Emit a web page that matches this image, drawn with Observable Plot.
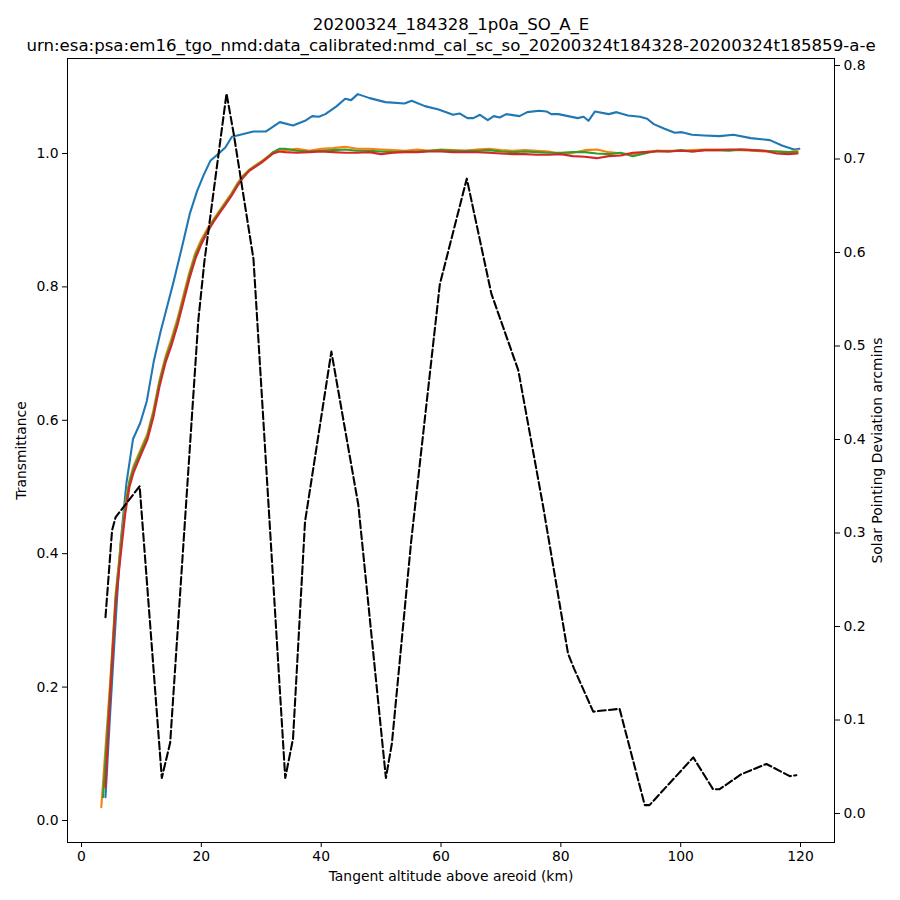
<!DOCTYPE html>
<html>
<head>
<meta charset="utf-8">
<script src="https://cdn.jsdelivr.net/npm/d3@7"></script>
<script src="https://cdn.jsdelivr.net/npm/@observablehq/plot@0.6"></script>
<style>
  html, body { margin: 0; padding: 0; background: white; }
</style>
</head>
<body>
<div id="chart"></div>
<script>
// ---------- DATA ----------
const titleLine1 = "20200324_184328_1p0a_SO_A_E";
const titleLine2 = "urn:esa:psa:em16_tgo_nmd:data_calibrated:nmd_cal_sc_so_20200324t184328-20200324t185859-a-e";
const xLabel = "Tangent altitude above areoid (km)";
const yLabelLeft = "Transmittance";
const yLabelRight = "Solar Pointing Deviation arcmins";

const xTicks = [0, 20, 40, 60, 80, 100, 120];
const yTicksLeft = [0.0, 0.2, 0.4, 0.6, 0.8, 1.0];
const yTicksRight = [0.0, 0.1, 0.2, 0.3, 0.4, 0.5, 0.6, 0.7, 0.8];

// Blue series (own altitude samples)
const blueAlt = [4.0,4.7,5.7,6.5,7.05,7.5,8.6,9.8,10.9,12.05,13.2,14.3,15.4,16.8,18.05,19.3,20.4,21.5,22.9,24.0,
  25.1,26.5,28.7,30.8,33.1,35.3,37.3,38.5,39.6,40.7,42.6,44.0,45.0,46.1,48.1,50.7,53.9,55.1,57.3,59.6,
  62.0,63.1,64.4,65.4,66.5,67.8,68.8,69.8,70.9,73.1,74.4,76.4,77.6,78.4,79.6,82.8,83.8,84.6,85.7,88.0,
  89.3,91.2,93.2,94.4,95.5,97.3,99.0,100.2,101.9,103.9,106.5,108.8,111.7,114.9,116.9,118.9,119.8];
const blueValue = [0.035,0.148,0.30,0.414,0.465,0.506,0.572,0.596,0.629,0.688,0.733,0.771,0.809,0.861,0.909,0.944,0.968,0.989,1.000,1.009,
  1.025,1.028,1.033,1.033,1.047,1.042,1.049,1.056,1.055,1.059,1.071,1.082,1.080,1.089,1.083,1.077,1.075,1.079,1.071,1.066,
  1.058,1.060,1.053,1.053,1.058,1.050,1.056,1.054,1.059,1.056,1.062,1.064,1.063,1.059,1.059,1.053,1.055,1.049,1.063,1.059,
  1.062,1.057,1.055,1.052,1.044,1.037,1.031,1.032,1.028,1.027,1.026,1.028,1.023,1.020,1.012,1.006,1.007];

// Orange / green / red: first sample each, then a shared altitude grid
const startAlt = { orange: 3.3, green: 3.6, red: 4.0 };
const startValue = { orange: 0.02, green: 0.035, red: 0.05 };
const gridAlt = [4.8,5.7,6.5,7.3,8.0,8.7,9.8,11,12,13,14,15,16,17,18,19,20,21,22,23,24,25,26,27,28,29,30,31,32,33,
  34,36,38,40,42,44,46,48,50,52,54,56,58,60,62,64,66,68,70,72,74,76,78,80,82,84,86,88,90,92,94,96,98,100,
  102,104,106,108,110,112,114,116,118,119.5];
const orangeValue = [0.21,0.34,0.41,0.475,0.51,0.532,0.555,0.58,0.615,0.66,0.695,0.722,0.752,0.787,0.822,0.851,0.871,0.887,0.901,0.914,0.927,0.940,0.955,0.967,0.976,0.982,0.988,0.995,1.002,1.006,
  1.005,1.007,1.004,1.007,1.008,1.010,1.007,1.007,1.006,1.005,1.004,1.006,1.004,1.006,1.005,1.004,1.006,1.007,1.005,1.004,1.005,1.004,1.003,0.999,1.001,1.005,1.006,1.002,1.000,0.999,1.002,1.004,1.004,1.004,
  1.005,1.006,1.006,1.005,1.005,1.004,1.003,1.003,1.002,1.005];
const greenValue = [0.20,0.335,0.405,0.47,0.507,0.528,0.551,0.576,0.611,0.656,0.691,0.717,0.747,0.782,0.817,0.847,0.867,0.884,0.899,0.912,0.925,0.938,0.953,0.966,0.975,0.981,0.987,0.994,1.002,1.007,
  1.007,1.004,1.003,1.004,1.005,1.006,1.004,1.004,1.003,1.002,1.003,1.003,1.004,1.005,1.004,1.004,1.004,1.005,1.003,1.002,1.003,1.002,1.001,1.001,1.002,1.002,1.000,0.999,1.001,0.996,1.000,1.004,1.003,1.005,
  1.003,1.005,1.005,1.004,1.006,1.005,1.004,1.003,1.002,1.002];
const redValue = [0.19,0.325,0.395,0.46,0.50,0.522,0.546,0.571,0.605,0.650,0.686,0.712,0.742,0.777,0.812,0.842,0.864,0.882,0.897,0.910,0.923,0.936,0.951,0.964,0.974,0.980,0.986,0.993,1.000,1.003,
  1.002,1.001,1.002,1.003,1.002,1.001,1.001,1.002,0.999,1.001,1.002,1.002,1.003,1.003,1.002,1.002,1.002,1.001,1.000,0.999,0.999,0.998,0.998,0.999,0.996,0.995,0.993,0.996,0.997,1.001,1.002,1.003,1.003,1.004,
  1.003,1.005,1.005,1.006,1.006,1.005,1.004,1.000,0.999,1.000];

// Solar pointing deviation (arcmin), right axis
const devAlt = [4.0,5.1,5.7,6.8,9.7,13.4,14.8,19.5,20.5,24.2,25.4,28.7,34.0,35.3,37.3,41.7,46.2,50.8,51.8,55.0,
  59.8,64.3,68.4,72.9,77.0,81.2,82.2,85.4,89.8,94.0,94.8,102.1,105.4,106.5,110.1,114.3,118.2,119.3];
const devValue = [0.210,0.303,0.317,0.326,0.350,0.038,0.076,0.528,0.590,0.770,0.727,0.593,0.038,0.080,0.312,0.494,0.330,0.038,0.075,0.290,
  0.566,0.679,0.556,0.474,0.330,0.171,0.155,0.109,0.112,0.009,0.009,0.060,0.026,0.026,0.042,0.053,0.040,0.041];

// ---------- SCALES ----------
const xDomain = [-2.34, 125.67];
const yDomain = [-0.033, 1.1424];
const devDomain = [-0.031, 0.8075];
const k = (yDomain[1] - yDomain[0]) / (devDomain[1] - devDomain[0]);
const toT = d => yDomain[0] + (d - devDomain[0]) * k;
const fromT = t => devDomain[0] + (t - yDomain[0]) / k;

const colors = { blue: "#1f77b4", orange: "#ff7f0e", green: "#2ca02c", red: "#d62728" };

const blueRows = blueAlt.map((a, i) => ({ alt: a, value: blueValue[i] }));
const ogr = (name, vals) => [{ alt: startAlt[name], value: startValue[name] }]
  .concat(gridAlt.map((a, i) => ({ alt: a, value: vals[i] })));
const orangeRows = ogr("orange", orangeValue);
const greenRows = ogr("green", greenValue);
const redRows = ogr("red", redValue);
const devRows = devAlt.map((a, i) => ({ alt: a, value: devValue[i] }));

const lw = 2.08;

const chart = Plot.plot({
  width: 900,
  height: 900,
  marginLeft: 67,
  marginRight: 66,
  marginTop: 58,
  marginBottom: 58,
  x: { domain: xDomain },
  y: { domain: yDomain },
  style: { fontFamily: "DejaVu Sans", fontSize: "13.9px", background: "white", color: "black" },
  marks: [
    Plot.frame({ stroke: "black", strokeWidth: 1 }),
    Plot.axisX(xTicks, { tickSize: 5, tickPadding: 4, label: null, tickFormat: d => String(d) }),
    Plot.axisY(yTicksLeft, { anchor: "left", tickSize: 5, tickPadding: 4, label: null, tickFormat: d3.format(".1f") }),
    Plot.axisY(yTicksRight.map(toT), { anchor: "right", tickSize: 5, tickPadding: 4, label: null,
      tickFormat: t => (Math.round(fromT(t) * 10) / 10 + 0).toFixed(1) }),
    Plot.line(blueRows, { x: "alt", y: "value", stroke: colors.blue, strokeWidth: lw }),
    Plot.line(orangeRows, { x: "alt", y: "value", stroke: colors.orange, strokeWidth: lw }),
    Plot.line(greenRows, { x: "alt", y: "value", stroke: colors.green, strokeWidth: lw }),
    Plot.line(redRows, { x: "alt", y: "value", stroke: colors.red, strokeWidth: lw }),
    Plot.line(devRows, { x: "alt", y: d => toT(d.value), stroke: "black", strokeWidth: lw, strokeDasharray: "7.7,3.3" }),
    Plot.text([titleLine1], { text: d => d, frameAnchor: "top", dy: -40, fontSize: 16.6 }),
    Plot.text([titleLine2], { text: d => d, frameAnchor: "top", dy: -19, fontSize: 16.6 }),
    Plot.text([xLabel], { text: d => d, frameAnchor: "bottom", dy: 38 }),
    Plot.text([yLabelLeft], { text: d => d, frameAnchor: "left", textAnchor: "middle", dx: -46, rotate: -90 }),
    Plot.text([yLabelRight], { text: d => d, frameAnchor: "right", textAnchor: "middle", dx: 43, rotate: -90 })
  ]
});
document.getElementById("chart").appendChild(chart);
</script>
</body>
</html>
